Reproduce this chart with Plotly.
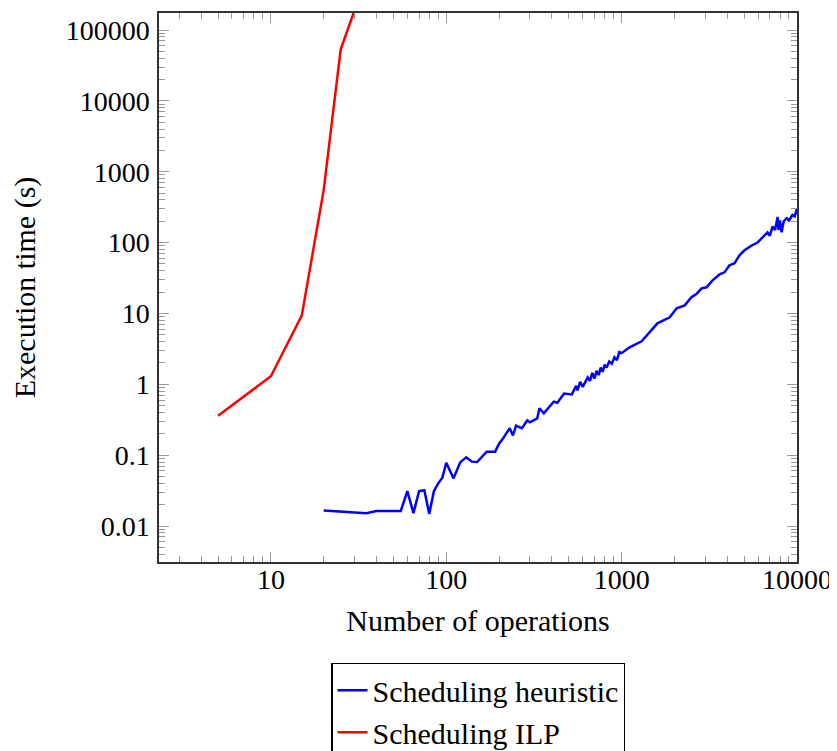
import plotly.graph_objects as go

# ILP scheduling: execution time vs number of operations
ilp_ops = [5, 10, 15, 20, 25, 30]
ilp_time = [0.36, 1.3, 9.3, 550, 53000, 190000]

# heuristic scheduling
heur_ops = [20, 25, 30, 35, 40, 45, 50, 55, 60, 65, 70, 75, 80, 85, 90, 95, 100,
            110, 120, 130, 140, 150, 170, 190, 200, 210, 230, 240, 250, 270, 290,
            300, 330, 340, 360, 380, 410, 430, 470, 520, 550, 560, 580, 600, 620,
            640, 660, 680, 700, 720, 740, 760, 780, 800, 820, 850, 880, 910, 940,
            970, 1000, 1110, 1300, 1450, 1600, 1880, 2060, 2290, 2500, 2680, 2860,
            3050, 3300, 3620, 3860, 4120, 4400, 4700, 5020, 5510, 5960, 6360, 6790,
            7000, 7250, 7500, 7750, 7850, 8000, 8170, 8400, 8720, 9000, 9420, 9700,
            10000]
heur_time = [0.0165, 0.016, 0.0155, 0.0151, 0.0163, 0.0163, 0.0163, 0.0163, 0.031,
             0.0152, 0.031, 0.032, 0.0148, 0.031, 0.040, 0.048, 0.078,
             0.047, 0.079, 0.093, 0.081, 0.080, 0.112, 0.112, 0.145, 0.17, 0.24,
             0.19, 0.26, 0.24, 0.31, 0.29, 0.33, 0.46, 0.39, 0.46, 0.57, 0.55,
             0.74, 0.72, 0.95, 0.82, 1.08, 0.92, 1.06, 1.25, 1.12, 1.45, 1.2, 1.55,
             1.35, 1.72, 1.5, 1.9, 1.72, 2.1, 1.95, 2.4, 2.2, 2.85, 2.75, 3.33,
             4.04, 5.4, 7.25, 8.8, 11.8, 13.0, 16.9, 19.0, 22.6, 23.4, 29.3, 35.5,
             38, 47.7, 50.9, 66, 77.7, 91, 100, 118, 139, 125, 168, 150, 230, 150,
             205, 140, 200, 220, 205, 245, 235, 300]

y_ticks = [0.01, 0.1, 1, 10, 100, 1000, 10000, 100000]
y_labels = ["0.01", "0.1", "1", "10", "100", "1000", "10000", "100000"]
x_ticks = [10, 100, 1000, 10000]
x_labels = ["10", "100", "1000", "10000"]

FONT = "Liberation Serif"

fig = go.Figure()
fig.add_trace(go.Scatter(x=heur_ops, y=heur_time, mode="lines",
                         name="Scheduling heuristic",
                         line=dict(color="#0000ff", width=2.5)))
fig.add_trace(go.Scatter(x=ilp_ops, y=ilp_time, mode="lines",
                         name="Scheduling ILP",
                         line=dict(color="#ff0000", width=2.5)))

axis_common = dict(
    showgrid=False, zeroline=False, automargin=False,
    showline=True, linecolor="#333333", linewidth=1.5, mirror="ticks",
    ticks="inside", ticklen=10, tickwidth=1.3, tickcolor="#999999",
    minor=dict(ticks="inside", ticklen=6, tickwidth=1.3, tickcolor="#999999",
               dtick="D1", showgrid=False),
    tickfont=dict(family=FONT, size=28, color="black"),
)

fig.update_xaxes(type="log", range=[0.362, 4.0], tickvals=x_ticks,
                 ticktext=x_labels, ticklabelstandoff=-8,
                 title=dict(text="Number of operations",
                            font=dict(family=FONT, size=30, color="black"),
                            standoff=16),
                 **axis_common)
fig.update_yaxes(type="log", range=[-2.508, 5.24], tickvals=y_ticks,
                 ticktext=y_labels, ticklabelstandoff=2,
                 title=dict(text="Execution time (s)",
                            font=dict(family=FONT, size=30, color="black"),
                            standoff=27),
                 **axis_common)

# page body adds an 8px offset, so margins are shifted to compensate
fig.update_layout(
    width=837, height=751,
    margin=dict(l=151, r=48, t=5, b=197),
    paper_bgcolor="white", plot_bgcolor="white",
    font=dict(family=FONT, size=28, color="black"),
    legend=dict(x=0.5, xanchor="center", yref="container", y=0.128,
                yanchor="top", bordercolor="black", borderwidth=1.5,
                font=dict(family=FONT, size=30, color="black")),
)

fig.write_html("out.html")
